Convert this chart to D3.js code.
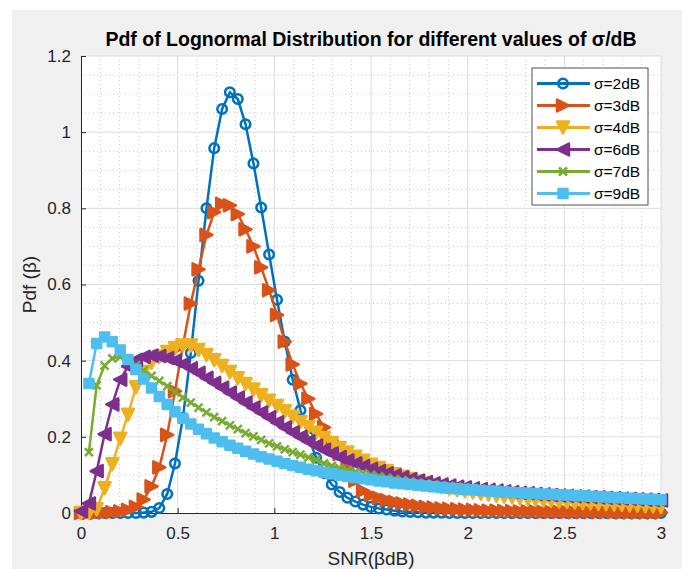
<!doctype html>
<html lang="en">
<head>
<meta charset="utf-8">
<title>Pdf of Lognormal Distribution</title>
<script src="https://cdnjs.cloudflare.com/ajax/libs/d3/7.8.5/d3.min.js"></script>
<style>
	body { margin: 0; background: #fff; }
	svg text { font-family: "Liberation Sans", Arial, sans-serif; }
	.tick text { fill: #262626; }
</style>
</head>
<body>
<div id="viz"></div>
<script>

// x grid shared by every curve (0 .. 3)
var xs = [0, 0.041,0.081,0.122,0.162,0.203,0.243,0.284,0.324,0.365,0.405,
	0.446,0.486,0.527,0.568,0.608,0.649,0.689,0.730,0.770,0.811,
	0.851,0.892,0.932,0.973,1.014,1.054,1.095,1.135,1.176,1.216,
	1.257,1.297,1.338,1.378,1.419,1.459,1.500,1.541,1.581,1.622,
	1.662,1.703,1.743,1.784,1.824,1.865,1.905,1.946,1.986,2.027,
	2.068,2.108,2.149,2.189,2.230,2.270,2.311,2.351,2.392,2.432,
	2.473,2.514,2.554,2.595,2.635,2.676,2.716,2.757,2.797,2.838,
	2.878,2.919,2.959,3.000];

var sigma2 = [0, 0,0,0,0,0,0,0,0.001,0.003,0.013,
	0.05,0.13,0.25,0.42,0.61,0.80,0.958,1.061,1.105,1.087,
	1.021,0.918,0.802,0.679,0.56,0.45,0.35,0.27,0.2,0.145,
	0.105,0.075,0.055,0.04,0.03,0.022,0.016,0.012,0.009,0.006,
	0.004,0.003,0.002,0.001,0.001,0.001,0,0,0,0,
	0,0,0,0,0,0,0,0,0,0,
	0,0,0,0,0,0,0,0,0,0,
	0,0,0,0];

var sigma3 = [0, 0,0,0.001,0.002,0.004,0.008,0.016,0.035,0.07,0.12,
	0.205,0.32,0.44,0.55,0.64,0.73,0.79,0.812,0.808,0.785,
	0.745,0.70,0.645,0.585,0.52,0.45,0.39,0.34,0.30,0.26,
	0.225,0.19,0.155,0.115,0.085,0.058,0.047,0.04,0.034,0.029,
	0.025,0.022,0.019,0.016,0.014,0.012,0.011,0.01,0.009,0.008,
	0.007,0.006,0.006,0.005,0.005,0.004,0.004,0.004,0.003,0.003,
	0.003,0.003,0.002,0.002,0.002,0.002,0.002,0.002,0.001,0.001,
	0.001,0.001,0.001,0.001];

var sigma4 = [0, 0,0.01,0.065,0.128,0.195,0.258,0.33,0.37,0.395,0.41,
	0.423,0.433,0.44,0.44,0.428,0.415,0.401,0.386,0.37,0.354,
	0.339,0.324,0.309,0.295,0.281,0.267,0.253,0.239,0.225,0.211,
	0.197,0.184,0.171,0.159,0.148,0.137,0.127,0.118,0.11,0.102,
	0.095,0.089,0.083,0.078,0.073,0.068,0.064,0.06,0.057,0.054,
	0.051,0.048,0.045,0.043,0.041,0.039,0.037,0.035,0.033,0.032,
	0.03,0.029,0.027,0.026,0.025,0.024,0.023,0.022,0.021,0.02,
	0.019,0.018,0.017,0.016];

var sigma6 = [0.005, 0.025,0.11,0.207,0.285,0.35,0.385,0.402,0.41,0.413,0.412,
	0.407,0.4,0.391,0.38,0.368,0.355,0.342,0.329,0.316,0.303,
	0.29,0.277,0.264,0.251,0.238,0.225,0.212,0.2,0.188,0.177,
	0.166,0.156,0.147,0.138,0.13,0.123,0.116,0.11,0.104,0.099,
	0.094,0.089,0.085,0.081,0.078,0.075,0.072,0.069,0.067,0.065,
	0.063,0.061,0.059,0.057,0.055,0.053,0.052,0.05,0.049,0.047,
	0.046,0.045,0.044,0.043,0.042,0.041,0.04,0.039,0.038,0.037,
	0.036,0.035,0.034,0.033];

var sigma7 = [null, 0.16,0.335,0.387,0.406,0.41,0.402,0.388,0.374,0.36,0.347,
	0.333,0.318,0.303,0.29,0.277,0.264,0.252,0.241,0.23,0.22,
	0.21,0.201,0.192,0.183,0.175,0.167,0.16,0.153,0.146,0.14,
	0.13,0.124,0.118,0.113,0.108,0.104,0.1,0.096,0.092,0.089,
	0.086,0.083,0.08,0.077,0.075,0.073,0.071,0.069,0.067,0.065,
	0.063,0.061,0.06,0.058,0.057,0.055,0.054,0.053,0.051,0.05,
	0.049,0.048,0.047,0.046,0.045,0.044,0.043,0.042,0.041,0.04,
	0.039,0.038,0.037,0.036];

var sigma9 = [null, 0.34,0.445,0.462,0.45,0.428,0.403,0.377,0.352,0.328,0.306,
	0.285,0.266,0.249,0.234,0.22,0.208,0.197,0.187,0.178,0.17,
	0.162,0.155,0.148,0.142,0.136,0.13,0.125,0.12,0.115,0.111,
	0.107,0.103,0.099,0.096,0.093,0.09,0.087,0.084,0.082,0.079,
	0.077,0.075,0.073,0.071,0.069,0.067,0.065,0.064,0.062,0.061,
	0.059,0.058,0.057,0.055,0.054,0.053,0.052,0.051,0.05,0.049,
	0.048,0.047,0.046,0.045,0.044,0.043,0.042,0.041,0.04,0.039,
	0.038,0.037,0.036,0.035];

var seriesNames = ["σ=2dB", "σ=3dB", "σ=4dB", "σ=6dB", "σ=7dB", "σ=9dB"];
var seriesValues = [sigma2, sigma3, sigma4, sigma6, sigma7, sigma9];
var colors = ["#0072bd", "#d95319", "#edb120", "#7e2f8e", "#77ac30", "#4dbeee"];
var markers = ["circle", "right", "down", "left", "cross", "square"];

var xTicks = [0, 0.5, 1, 1.5, 2, 2.5, 3];
var yTicks = [0, 0.2, 0.4, 0.6, 0.8, 1, 1.2];

(function(d3) {

	var w = 687, h = 569;
	var margin = {top: 56, right: 26, bottom: 56, left: 81};
	var width = w - margin.left - margin.right,   // 580
		height = h - margin.top - margin.bottom;  // 457

	var xScale = d3.scaleLinear().domain([0, 3]).range([0, width]);
	var yScale = d3.scaleLinear().domain([0, 1.2]).range([height, 0]);

	var svg = d3.select("#viz")
		.append("svg")
		.attr("width", w)
		.attr("height", h);

	// figure background
	svg.append("rect")
		.attr("x", 12).attr("y", 10)
		.attr("width", 670).attr("height", h - 10)
		.attr("fill", "#f0f0f0");

	var g = svg.append("g")
		.attr("transform", "translate(" + margin.left + "," + margin.top + ")");

	g.append("rect")
		.attr("width", width).attr("height", height)
		.attr("fill", "#fff");

	// minor grid (dotted)
	g.append("g")
		.selectAll("line")
		.data(d3.range(1, 30).filter(i => i % 5 != 0).map(i => i / 10))
		.enter().append("line")
		.attr("x1", d => xScale(d)).attr("x2", d => xScale(d))
		.attr("y1", 0).attr("y2", height)
		.attr("stroke", "#c4c4c4")
		.attr("stroke-dasharray", "1,3");

	g.append("g")
		.selectAll("line")
		.data(d3.range(1, 24).filter(i => i % 4 != 0).map(i => i / 20))
		.enter().append("line")
		.attr("x1", 0).attr("x2", width)
		.attr("y1", d => yScale(d)).attr("y2", d => yScale(d))
		.attr("stroke", "#c4c4c4")
		.attr("stroke-dasharray", "1,3");

	// major grid
	g.append("g")
		.selectAll("line")
		.data(xTicks.slice(1))
		.enter().append("line")
		.attr("x1", d => xScale(d)).attr("x2", d => xScale(d))
		.attr("y1", 0).attr("y2", height)
		.attr("stroke", "#dcdcdc");

	g.append("g")
		.selectAll("line")
		.data(yTicks.slice(1))
		.enter().append("line")
		.attr("x1", 0).attr("x2", width)
		.attr("y1", d => yScale(d)).attr("y2", d => yScale(d))
		.attr("stroke", "#dcdcdc");

	// axes, ticks pointing inward like matlab
	var xAxis = d3.axisBottom(xScale)
		.tickValues(xTicks)
		.tickFormat(d3.format("~g"))
		.tickSizeInner(-5).tickSizeOuter(0).tickPadding(14);

	var yAxis = d3.axisLeft(yScale)
		.tickValues(yTicks)
		.tickFormat(d3.format("~g"))
		.tickSizeInner(-5).tickSizeOuter(0).tickPadding(14);

	g.append("g")
		.attr("transform", "translate(0," + height + ")")
		.call(xAxis)
		.call(a => a.selectAll("text").attr("font-size", 17).attr("font-family", null));

	g.append("g")
		.call(yAxis)
		.call(a => a.selectAll("text").attr("font-size", 17).attr("font-family", null).attr("dx", 4));

	g.selectAll(".domain, .tick line").attr("stroke", "#262626");

	// marker shapes
	function markerPath(type) {
		var s = 6;
		if (type == "circle") return d3.symbol(d3.symbolCircle, 72)();
		if (type == "square") return "M-4.5,-4.5H4.5V4.5H-4.5Z";
		if (type == "right") return "M" + s + ",0L" + (-s) + "," + (-s) + "L" + (-s) + "," + s + "Z";
		if (type == "left") return "M" + (-s) + ",0L" + s + "," + (-s) + "L" + s + "," + s + "Z";
		if (type == "down") return "M0," + s + "L" + (-s) + "," + (-s) + "L" + s + "," + (-s) + "Z";
		return "M-4,-4L4,4M-4,4L4,-4";
	}

	function styleMarker(sel, i) {
		var open = markers[i] == "circle" || markers[i] == "cross";
		sel.attr("d", markerPath(markers[i]))
			.attr("fill", open ? "none" : colors[i])
			.attr("stroke", colors[i])
			.attr("stroke-width", 2.5)
			.attr("stroke-linejoin", "round");
	}

	var line = d3.line()
		.defined(d => d[1] != null)
		.x(d => xScale(d[0]))
		.y(d => yScale(d[1]));

	seriesValues.forEach(function(vals, i) {
		var pts = xs.map((x, k) => [x, vals[k]]);
		var sg = g.append("g");
		sg.append("path")
			.attr("d", line(pts))
			.attr("fill", "none")
			.attr("stroke", colors[i])
			.attr("stroke-width", 2.5);
		sg.selectAll("path.m")
			.data(pts.filter(d => d[1] != null))
			.enter().append("path")
			.attr("class", "m")
			.attr("transform", d => "translate(" + xScale(d[0]) + "," + yScale(d[1]) + ")")
			.call(styleMarker, i);
	});

	// legend
	var leg = svg.append("g").attr("transform", "translate(532,68)");
	leg.append("rect")
		.attr("width", 116).attr("height", 137)
		.attr("fill", "#fff")
		.attr("stroke", "#262626")
		.attr("stroke-width", 0.8);

	var items = leg.selectAll("g.item")
		.data(seriesNames)
		.enter().append("g")
		.attr("transform", (d, i) => "translate(0," + (15.5 + i * 22) + ")");

	items.append("line")
		.attr("x1", 5).attr("x2", 58)
		.attr("stroke", (d, i) => colors[i])
		.attr("stroke-width", 3);

	items.append("path")
		.attr("transform", "translate(31,0)")
		.each(function(d, i) { d3.select(this).call(styleMarker, i); });

	items.append("text")
		.attr("x", 62)
		.attr("dy", "0.35em")
		.attr("font-size", 15.5)
		.attr("fill", "#000")
		.text(d => d);

	// titles
	svg.append("text")
		.attr("x", margin.left + width / 2)
		.attr("y", 46)
		.attr("text-anchor", "middle")
		.attr("font-size", 19.5)
		.attr("font-weight", "bold")
		.attr("fill", "#000")
		.text("Pdf of Lognormal Distribution for different values of σ/dB");

	svg.append("text")
		.attr("x", margin.left + width / 2)
		.attr("y", 565)
		.attr("text-anchor", "middle")
		.attr("font-size", 19)
		.attr("fill", "#262626")
		.text("SNR(βdB)");

	svg.append("text")
		.attr("transform", "translate(36," + (margin.top + height / 2) + ") rotate(-90)")
		.attr("text-anchor", "middle")
		.attr("font-size", 19)
		.attr("fill", "#262626")
		.text("Pdf (β)");

})(d3);

</script>
</body>
</html>
